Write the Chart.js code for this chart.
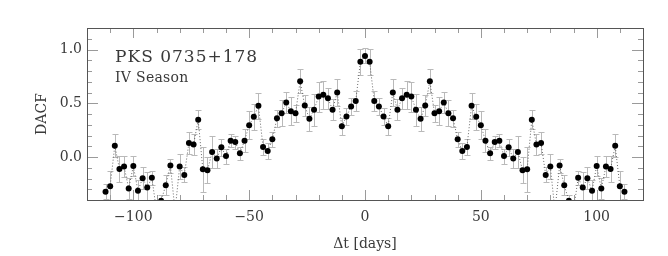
<!DOCTYPE html>
<html>
<head>
<meta charset="utf-8">
<script src="https://cdn.jsdelivr.net/npm/chart.js@4/dist/chart.umd.min.js"></script>
<style>
  body { margin: 0; background: #fff; }
  #wrap { width: 668px; height: 256px; }
</style>
</head>
<body>
<div id="wrap"><canvas id="dacf" width="668" height="256"></canvas></div>
<script>
// lag in days, DACF value and its error
const lags = [-112, -110, -108, -106, -104, -102, -100, -98, -96, -94, -92, -90, -88, -86, -84, -82, -80, -78, -76, -74,
	-72, -70, -68, -66, -64, -62, -60, -58, -56, -54, -52, -50, -48, -46, -44, -42, -40, -38, -36, -34,
	-32, -30, -28, -26, -24, -22, -20, -18, -16, -14, -12, -10, -8, -6, -4, -2, 0,
	2, 4, 6, 8, 10, 12, 14, 16, 18, 20, 22, 24, 26, 28, 30, 32, 34, 36, 38, 40,
	42, 44, 46, 48, 50, 52, 54, 56, 58, 60, 62, 64, 66, 68, 70, 72, 74, 76, 78, 80,
	82, 84, 86, 88, 90, 92, 94, 96, 98, 100, 102, 104, 106, 108, 110, 112];
const dacf = [-0.324, -0.271, 0.105, -0.111, -0.089, -0.293, -0.083, -0.315, -0.197, -0.284, -0.194, -0.5, -0.407, -0.262, -0.08, -0.5, -0.089, -0.167, 0.13, 0.117,
	0.346, -0.114, -0.123, 0.046, -0.015, 0.09, 0.009, 0.152, 0.139, 0.034, 0.152, 0.296, 0.374, 0.476, 0.093, 0.056, 0.164, 0.36, 0.407, 0.506,
	0.426, 0.407, 0.704, 0.478, 0.355, 0.44, 0.562, 0.578, 0.546, 0.44, 0.6, 0.287, 0.377, 0.47, 0.52, 0.886, 0.94,
	0.886, 0.52, 0.47, 0.377, 0.287, 0.6, 0.44, 0.546, 0.578, 0.562, 0.44, 0.355, 0.478, 0.704, 0.407, 0.426, 0.506, 0.407, 0.36, 0.164,
	0.056, 0.093, 0.476, 0.374, 0.296, 0.152, 0.034, 0.139, 0.152, 0.009, 0.09, -0.015, 0.046, -0.123, -0.114, 0.346, 0.117, 0.13, -0.167, -0.089,
	-0.5, -0.08, -0.262, -0.407, -0.5, -0.194, -0.284, -0.197, -0.315, -0.083, -0.293, -0.089, -0.111, 0.105, -0.271, -0.324];
const dacfErr = [0.07, 0.14, 0.105, 0.12, 0.1, 0.1, 0.09, 0.1, 0.1, 0.14, 0.065, 0.1, 0.05, 0.09, 0.065, 0.1, 0.12, 0.07, 0.1, 0.1,
	0.09, 0.21, 0.12, 0.15, 0.09, 0.08, 0.07, 0.06, 0.06, 0.06, 0.11, 0.13, 0.12, 0.12, 0.07, 0.07, 0.07, 0.08, 0.12, 0.1,
	0.13, 0.08, 0.11, 0.1, 0.11, 0.15, 0.14, 0.13, 0.1, 0.1, 0.13, 0.08, 0.08, 0.08, 0.09, 0.12, 0.07,
	0.12, 0.09, 0.08, 0.08, 0.08, 0.13, 0.1, 0.1, 0.13, 0.14, 0.15, 0.11, 0.1, 0.11, 0.08, 0.13, 0.1, 0.12, 0.08, 0.07,
	0.07, 0.07, 0.12, 0.12, 0.13, 0.11, 0.06, 0.06, 0.06, 0.07, 0.08, 0.09, 0.15, 0.12, 0.21, 0.09, 0.1, 0.1, 0.07, 0.12,
	0.1, 0.065, 0.09, 0.05, 0.1, 0.065, 0.14, 0.1, 0.1, 0.09, 0.1, 0.1, 0.12, 0.105, 0.14, 0.07];

// labelled (major) ticks
const majorX = [-100, -50, 0, 50, 100];
const majorY = [0, 0.5, 1];

const serif = "'DejaVu Serif', 'Liberation Serif', serif";
const textColor = "#3a3a3a";

// gray error bars with caps, drawn under the points
const errorBars = {
	id: "errorBars",
	beforeDatasetsDraw(chart) {
		const { ctx, chartArea: a, scales } = chart;
		ctx.save();
		ctx.beginPath();
		ctx.rect(a.left, a.top, a.right - a.left, a.bottom - a.top);
		ctx.clip();
		ctx.strokeStyle = "#b9b9b9";
		ctx.lineWidth = 1;
		for (let i = 0; i < lags.length; i++) {
			const px = Math.round(scales.x.getPixelForValue(lags[i])) + 0.5;
			const lo = Math.round(scales.y.getPixelForValue(dacf[i] - dacfErr[i])) + 0.5;
			const hi = Math.round(scales.y.getPixelForValue(dacf[i] + dacfErr[i])) + 0.5;
			ctx.beginPath();
			ctx.moveTo(px, lo);
			ctx.lineTo(px, hi);
			ctx.moveTo(px - 3, lo);
			ctx.lineTo(px + 3, lo);
			ctx.moveTo(px - 3, hi);
			ctx.lineTo(px + 3, hi);
			ctx.stroke();
		}
		ctx.restore();
	},
};

// box round the plot with inward ticks on all four sides, plus the labels
const frameTicks = {
	id: "frameTicks",
	afterDraw(chart) {
		const { ctx, chartArea: a, scales } = chart;
		ctx.save();
		ctx.strokeStyle = "#9a9a9a";
		ctx.lineWidth = 1;
		ctx.beginPath();
		scales.x.ticks.forEach((t) => {
			const px = Math.round(scales.x.getPixelForValue(t.value)) + 0.5;
			const len = majorX.includes(t.value) ? 10 : 5;
			ctx.moveTo(px, a.bottom);
			ctx.lineTo(px, a.bottom - len);
			ctx.moveTo(px, a.top);
			ctx.lineTo(px, a.top + len);
		});
		scales.y.ticks.forEach((t) => {
			const py = Math.round(scales.y.getPixelForValue(t.value)) + 0.5;
			const v = Math.round(t.value * 10) / 10;
			const len = majorY.includes(v) ? 11 : 5;
			ctx.moveTo(a.left, py);
			ctx.lineTo(a.left + len, py);
			ctx.moveTo(a.right, py);
			ctx.lineTo(a.right - len, py);
		});
		ctx.stroke();
		ctx.strokeStyle = "#555";
		ctx.strokeRect(Math.round(a.left) + 0.5, Math.round(a.top) + 0.5, Math.round(a.right - a.left), Math.round(a.bottom - a.top));

		ctx.fillStyle = textColor;
		ctx.textBaseline = "alphabetic";
		ctx.font = "17px " + serif;
		ctx.letterSpacing = "1px";
		ctx.fillText("PKS 0735+178", a.left + 28, a.top + 34);
		ctx.font = "14px " + serif;
		ctx.letterSpacing = "0.3px";
		ctx.fillText("IV Season", a.left + 28, a.top + 54);
		ctx.restore();
	},
};

const ctx = document.getElementById("dacf").getContext("2d");
const dacfChart = new Chart(ctx, {
	type: "line",
	data: {
		datasets: [
			{
				data: lags.map((t, i) => ({ x: t, y: dacf[i] })),
				borderColor: "#666",
				borderWidth: 1,
				borderDash: [1, 2],
				pointRadius: 3,
				pointBackgroundColor: "#000",
				pointBorderColor: "#000",
				pointBorderWidth: 0,
				tension: 0,
				clip: 0,
			},
		],
	},
	options: {
		responsive: false,
		animation: false,
		layout: { padding: { top: 28, right: 25, left: 0, bottom: 0 } },
		plugins: {
			legend: { display: false },
			tooltip: { enabled: false },
		},
		scales: {
			x: {
				type: "linear",
				min: -120,
				max: 120,
				grid: { display: false, drawTicks: false },
				border: { display: false },
				ticks: {
					stepSize: 10,
					autoSkip: false,
					maxRotation: 0,
					padding: 9,
					color: textColor,
					font: { family: serif, size: 14 },
					callback: (v) => (majorX.includes(v) ? (v < 0 ? "\u2212" + Math.abs(v) : String(v)) : ""),
				},
				title: {
					display: true,
					text: "\u0394t [days]",
					color: textColor,
					font: { family: serif, size: 14 },
					padding: { top: 0, bottom: 3 },
				},
				afterFit: (s) => {
					s.height = 56;
				},
			},
			y: {
				min: -0.4,
				max: 1.2,
				grid: { display: false, drawTicks: false },
				border: { display: false },
				ticks: {
					stepSize: 0.1,
					autoSkip: false,
					padding: 5,
					color: textColor,
					font: { family: serif, size: 14 },
					callback: (v) => {
						const r = Math.round(v * 10) / 10;
						return majorY.includes(r) ? r.toFixed(1) : "";
					},
				},
				title: {
					display: true,
					text: "DACF",
					color: textColor,
					font: { family: serif, size: 14 },
					padding: { top: 34, bottom: 0 },
				},
				afterFit: (s) => {
					s.width = 87;
				},
			},
		},
	},
	plugins: [errorBars, frameTicks],
});
</script>
</body>
</html>
